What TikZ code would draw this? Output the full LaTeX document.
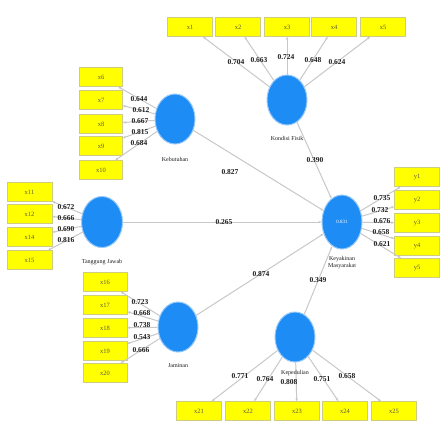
\documentclass[tikz,border=0pt]{standalone}
\usepackage{fontspec}
\setmainfont{Liberation Serif}
\usetikzlibrary{shapes.geometric,arrows.meta}
\definecolor{indfill}{RGB}{255,255,0}
\definecolor{indline}{RGB}{205,205,130}
\definecolor{lvfill}{RGB}{30,140,245}
\definecolor{lvline}{RGB}{150,200,250}
\definecolor{lnkcol}{RGB}{200,200,200}
\definecolor{txtcol}{RGB}{30,30,30}
\definecolor{boxtxt}{RGB}{90,90,60}
\tikzset{
  ind/.style={draw=indline, fill=indfill, line width=0.6pt, minimum width=45pt, minimum height=19pt, inner sep=0pt, font=\fontsize{6.5}{7}\selectfont, text=boxtxt},
  lv/.style={ellipse, fill=lvfill, draw=lvline, line width=1pt, minimum width=40pt, minimum height=50pt, inner sep=0pt},
  lnk/.style={draw=lnkcol, line width=1pt, -{Stealth[length=3pt,width=2.5pt]}},
  num/.style={font=\fontsize{7.5}{8}\selectfont\bfseries, inner sep=0pt, text=txtcol},
  lvcaption/.style={font=\fontsize{6}{7}\selectfont, inner sep=0pt, align=center, text=txtcol}
}
\begin{document}
\begin{tikzpicture}[x=1pt,y=-1pt]
\useasboundingbox (0,0) rectangle (444,424);
\fill[white] (0,0) rectangle (444,424);

% latent variables
\node[lv] (KF) at (287,100) {};
\node[lv] (KB) at (175,119) {};
\node[lv, minimum width=41pt, minimum height=51pt] (TJ) at (102,222) {};
\node[lv, minimum height=54pt] (KM) at (342,222) {\textcolor{white}{\fontsize{5}{6}\selectfont 0.831}};
\node[lv] (JM) at (178,327) {};
\node[lv] (KP) at (295,337) {};

% indicators Kondisi Fisik
\node[ind] (x1) at (190,27) {x1};
\node[ind] (x2) at (238,27) {x2};
\node[ind] (x3) at (287,27) {x3};
\node[ind] (x4) at (334,27) {x4};
\node[ind] (x5) at (383,27) {x5};
% indicators Kebutuhan
\node[ind, minimum width=43pt] (x6) at (101,77) {x6};
\node[ind, minimum width=43pt] (x7) at (101,100) {x7};
\node[ind, minimum width=43pt] (x8) at (101,124) {x8};
\node[ind, minimum width=43pt] (x9) at (101,146) {x9};
\node[ind, minimum width=43pt] (x10) at (101,170) {x10};
% indicators Tanggung Jawab
\node[ind] (x11) at (29.5,192) {x11};
\node[ind] (x12) at (29.5,214) {x12};
\node[ind] (x14) at (29.5,237) {x14};
\node[ind] (x15) at (29.5,260) {x15};
% indicators Keyakinan Masyarakat
\node[ind] (y1) at (417,177) {y1};
\node[ind] (y2) at (417,200) {y2};
\node[ind] (y3) at (417,223) {y3};
\node[ind] (y4) at (417,246) {y4};
\node[ind] (y5) at (417,268) {y5};
% indicators Jaminan
\node[ind, minimum width=44pt] (x16) at (105,282) {x16};
\node[ind, minimum width=44pt] (x17) at (105,305) {x17};
\node[ind, minimum width=44pt] (x18) at (105,328) {x18};
\node[ind, minimum width=44pt] (x19) at (105,351) {x19};
\node[ind, minimum width=44pt] (x20) at (105,373) {x20};
% indicators Kepedulian
\node[ind] (x21) at (199,411) {x21};
\node[ind] (x22) at (248,411) {x22};
\node[ind] (x23) at (297,411) {x23};
\node[ind] (x24) at (345,411) {x24};
\node[ind] (x25) at (394,411) {x25};

% outer loadings
\foreach \i in {1,...,5} \draw[lnk] (KF) -- (x\i);
\foreach \i in {6,...,10} \draw[lnk] (KB) -- (x\i);
\foreach \i in {11,12,14,15} \draw[lnk] (TJ) -- (x\i);
\foreach \i in {1,...,5} \draw[lnk] (KM) -- (y\i);
\foreach \i in {16,...,20} \draw[lnk] (JM) -- (x\i);
\foreach \i in {21,...,25} \draw[lnk] (KP) -- (x\i);

% inner model
\draw[lnk] (KF) -- (KM);
\draw[lnk] (KB) -- (KM);
\draw[lnk] (TJ) -- (KM);
\draw[lnk] (JM) -- (KM);
\draw[lnk] (KP) -- (KM);

% construct captions
\node[lvcaption] (cKF) at (287,138) {Kondisi Fisik};
\node[lvcaption] (cKB) at (175,159) {Kebutuhan};
\node[lvcaption] (cTJ) at (102,262) {Tanggung Jawab};
\node[lvcaption] (cKM) at (342,263) {Keyakinan\\Masyarakat};
\node[lvcaption] (cJM) at (178,366) {Jaminan};
\node[lvcaption] (cKP) at (295,373) {Kepedulian};

% loadings labels
\node[num] (l1) at (236,62) {0.704};
\node[num] (l2) at (259,60) {0.663};
\node[num] (l3) at (286,57) {0.724};
\node[num] (l4) at (313,60) {0.648};
\node[num] (l5) at (337,62) {0.624};

\node[num] (l6) at (139,99) {0.644};
\node[num] (l7) at (141,110) {0.612};
\node[num] (l8) at (140,121) {0.667};
\node[num] (l9) at (140,132) {0.815};
\node[num] (l10) at (139,143) {0.684};

\node[num] (l11) at (66,207) {0.672};
\node[num] (l12) at (66,218) {0.666};
\node[num] (l14) at (66,229) {0.690};
\node[num] (l15) at (66,240) {0.816};

\node[num] (m1) at (382,198) {0.735};
\node[num] (m2) at (380,210) {0.732};
\node[num] (m3) at (382,221) {0.676};
\node[num] (m4) at (381,232) {0.658};
\node[num] (m5) at (382,244) {0.621};

\node[num] (l16) at (140,302) {0.723};
\node[num] (l17) at (142,313) {0.668};
\node[num] (l18) at (142,325) {0.738};
\node[num] (l19) at (142,337) {0.543};
\node[num] (l20) at (141,350) {0.666};

\node[num] (l21) at (240,376) {0.771};
\node[num] (l22) at (265,379) {0.764};
\node[num] (l23) at (289,382) {0.808};
\node[num] (l24) at (322,379) {0.751};
\node[num] (l25) at (347,376) {0.658};

% path coefficients
\node[num] (p1) at (315,160) {0.390};
\node[num] (p2) at (230,172) {0.827};
\node[num] (p3) at (224,222) {0.265};
\node[num] (p4) at (261,274) {0.874};
\node[num] (p5) at (318,280) {0.349};
\end{tikzpicture}
\end{document}
